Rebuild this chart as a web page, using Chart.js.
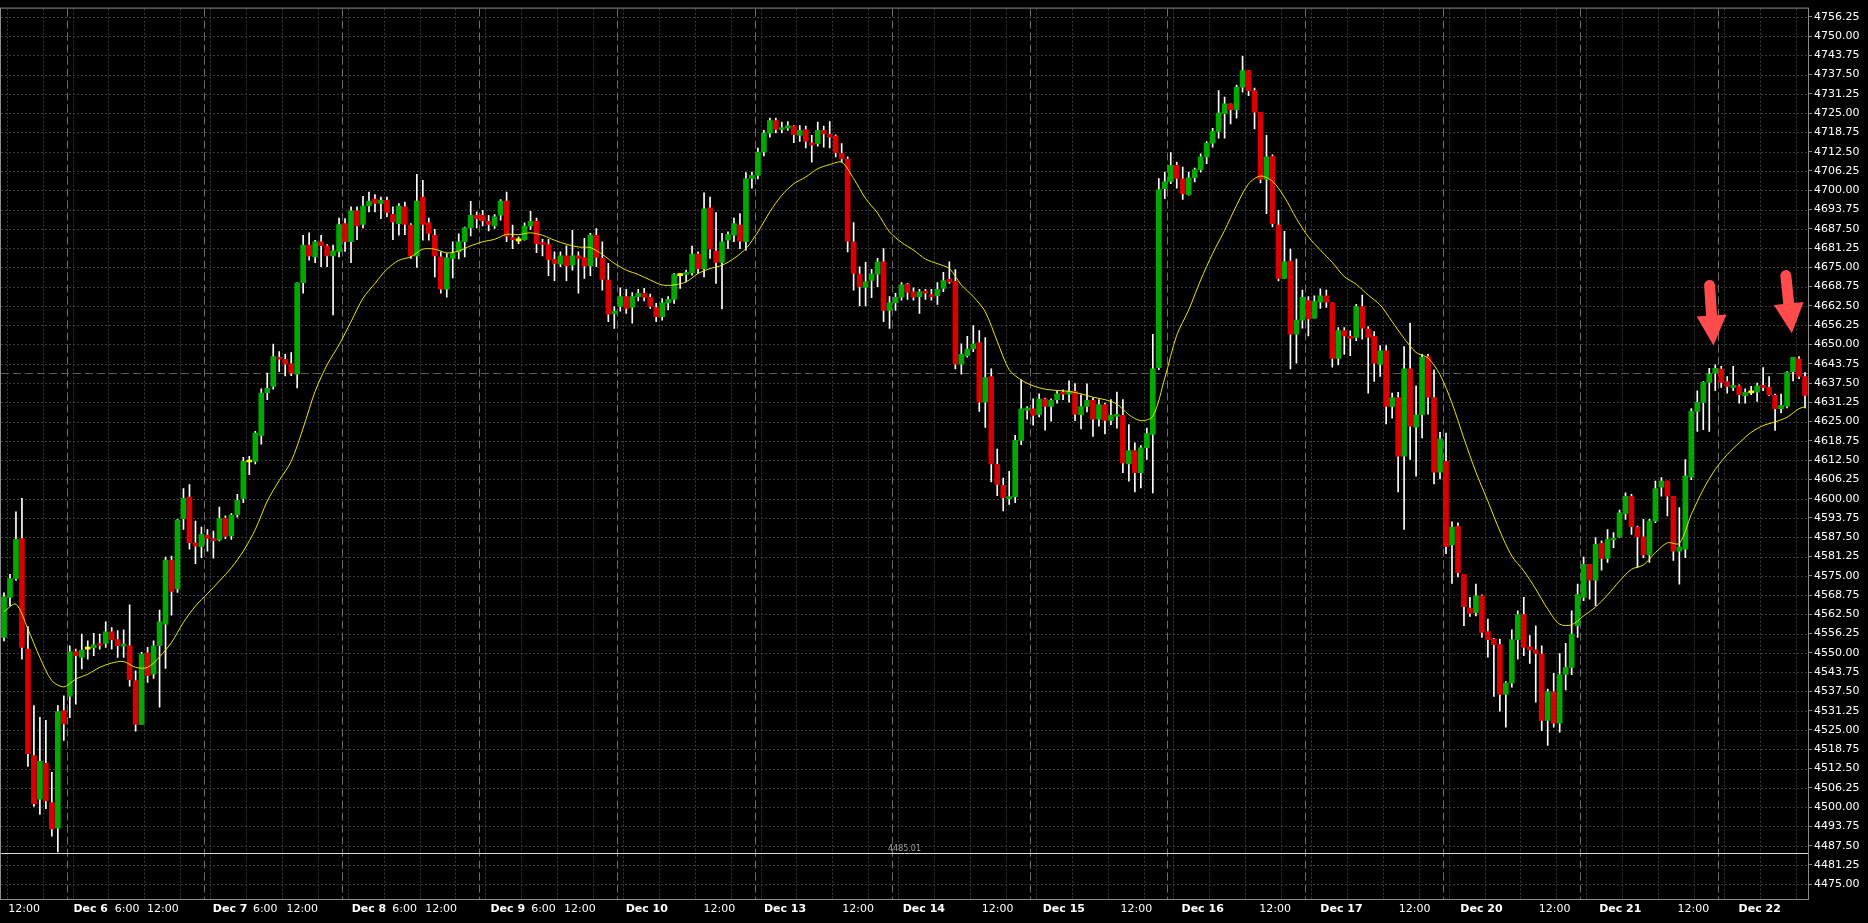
<!DOCTYPE html>
<html>
<head>
<meta charset="utf-8">
<title>ES hourly</title>
<script src="https://cdn.jsdelivr.net/npm/chart.js@4.4.1/dist/chart.umd.min.js"></script>
<style>
  html, body { margin: 0; padding: 0; background: #000; overflow: hidden; }
  #wrap { width: 1868px; height: 923px; }
</style>
</head>
<body>
<div id="wrap"><canvas id="chart"></canvas></div>
<script>
/* hourly candles, bar index 0..301 */

const opens = [
  4555.0, 4568.0, 4574.1, 4587.1, 4551.2, 4516.7, 4502.6, 4514.2, 4501.5, 4493.2,
  4531.3, 4536.0, 4550.4, 4548.5, 4551.2, 4551.6, 4552.9, 4553.1, 4556.8, 4554.3,
  4552.2, 4552.3, 4541.0, 4526.8, 4550.0, 4543.1, 4552.3, 4559.3, 4580.1, 4570.7,
  4593.5, 4600.5, 4585.7, 4584.4, 4588.2, 4587.1, 4586.6, 4593.7, 4587.9, 4594.8,
  4600.1, 4611.9, 4612.1, 4620.5, 4634.4, 4636.4, 4645.8, 4645.2, 4643.8, 4640.4,
  4670.0, 4682.2, 4678.4, 4683.3, 4682.0, 4678.7, 4680.0, 4689.2, 4683.3, 4693.3,
  4688.9, 4694.9, 4697.1, 4695.7, 4696.7, 4692.2, 4689.2, 4694.6, 4688.7, 4678.6,
  4697.8, 4689.4, 4685.4, 4678.4, 4667.9, 4677.9, 4680.0, 4683.3, 4687.8, 4691.9,
  4691.9, 4689.9, 4688.4, 4691.9, 4696.5, 4684.6, 4683.6, 4684.0, 4688.4, 4689.9,
  4683.0, 4682.4, 4677.6, 4676.0, 4678.7, 4675.7, 4678.7, 4678.2, 4675.5, 4685.4,
  4677.9, 4670.9, 4660.0, 4662.3, 4665.5, 4662.0, 4665.5, 4666.6, 4665.3, 4662.0,
  4659.0, 4663.5, 4664.6, 4672.3, 4672.7, 4673.2, 4679.3, 4674.6, 4694.3, 4680.3,
  4676.6, 4683.8, 4685.4, 4688.7, 4683.3, 4703.8, 4704.8, 4712.4, 4718.5, 4722.6,
  4719.7, 4720.1, 4720.8, 4717.8, 4719.7, 4715.3, 4715.1, 4719.4, 4718.1, 4717.6,
  4712.0, 4710.0, 4683.3, 4672.8, 4668.5, 4670.8, 4672.8, 4676.8, 4661.0, 4663.5,
  4665.3, 4669.6, 4667.1, 4665.5, 4667.3, 4666.0, 4665.8, 4668.2, 4671.1, 4670.5,
  4643.6, 4646.4, 4648.6, 4650.6, 4631.3, 4639.6, 4611.1, 4604.3, 4600.0, 4600.6,
  4618.9, 4628.6, 4629.1, 4627.3, 4632.3, 4629.9, 4632.1, 4634.6, 4633.9, 4634.8,
  4627.2, 4629.9, 4631.9, 4625.8, 4630.5, 4625.4, 4626.7, 4627.0, 4611.3, 4615.6,
  4608.4, 4616.5, 4620.8, 4642.5, 4700.5, 4702.9, 4708.1, 4703.7, 4698.6, 4704.1,
  4706.7, 4710.8, 4715.3, 4719.1, 4724.8, 4728.0, 4726.1, 4733.4, 4738.8, 4732.3,
  4725.3, 4703.5, 4711.0, 4688.7, 4671.4, 4677.0, 4653.3, 4657.9, 4664.2, 4658.5,
  4663.7, 4665.8, 4663.5, 4645.5, 4654.5, 4652.6, 4652.3, 4662.3, 4655.0, 4652.6,
  4643.6, 4647.9, 4629.9, 4632.8, 4613.8, 4642.1, 4623.2, 4627.2, 4646.1, 4632.8,
  4608.6, 4612.1, 4585.0, 4591.1, 4575.5, 4564.5, 4563.1, 4568.5, 4556.9, 4554.5,
  4552.7, 4536.5, 4540.3, 4554.3, 4562.4, 4552.0, 4551.0, 4549.6, 4528.1, 4537.4,
  4527.2, 4543.0, 4545.3, 4558.8, 4568.0, 4578.7, 4573.6, 4585.5, 4580.6, 4586.6,
  4587.6, 4595.1, 4600.8, 4590.8, 4587.6, 4581.8, 4592.7, 4603.7, 4605.7, 4600.8,
  4583.0, 4583.6, 4607.0, 4628.3, 4631.2, 4637.7, 4640.7, 4642.0, 4638.0, 4636.1,
  4636.6, 4633.4, 4634.3, 4634.5, 4636.6, 4636.1, 4633.5, 4629.2, 4630.0, 4641.2,
  4645.3, 4639.6
];

const highs = [
  4569.5, 4575.5, 4595.7, 4600.1, 4558.5, 4532.9, 4529.1, 4528.1, 4511.3, 4532.9,
  4536.1, 4552.3, 4551.2, 4556.1, 4553.9, 4556.3, 4556.1, 4560.1, 4558.2, 4557.2,
  4557.5, 4565.6, 4544.2, 4550.2, 4551.8, 4553.9, 4563.9, 4581.1, 4581.4, 4593.3,
  4603.3, 4604.6, 4592.7, 4590.8, 4590.0, 4589.5, 4597.3, 4594.4, 4595.2, 4601.4,
  4613.4, 4613.7, 4621.8, 4635.6, 4640.7, 4650.1, 4647.7, 4646.8, 4647.4, 4670.0,
  4685.4, 4686.2, 4683.8, 4685.4, 4682.4, 4682.2, 4691.0, 4690.8, 4694.6, 4694.6,
  4698.0, 4699.4, 4698.6, 4697.8, 4697.8, 4694.6, 4695.7, 4696.2, 4689.2, 4705.2,
  4703.2, 4691.0, 4687.3, 4680.0, 4679.5, 4683.3, 4685.9, 4688.1, 4696.4, 4693.0,
  4693.5, 4691.9, 4692.1, 4697.0, 4699.4, 4688.7, 4684.9, 4689.4, 4693.2, 4691.0,
  4684.1, 4684.1, 4680.0, 4680.0, 4682.0, 4687.0, 4680.0, 4684.4, 4686.0, 4687.6,
  4683.3, 4676.3, 4662.3, 4668.4, 4667.9, 4666.8, 4667.9, 4668.2, 4666.3, 4663.3,
  4664.9, 4665.5, 4673.0, 4673.0, 4674.1, 4681.9, 4680.0, 4699.2, 4697.8, 4692.8,
  4686.0, 4686.5, 4691.0, 4692.4, 4705.7, 4705.9, 4713.7, 4719.4, 4723.4, 4723.4,
  4722.1, 4722.3, 4721.0, 4721.0, 4720.8, 4717.8, 4722.1, 4720.8, 4722.3, 4718.0,
  4715.1, 4710.8, 4689.5, 4675.2, 4676.6, 4674.4, 4677.9, 4681.1, 4665.5, 4666.6,
  4670.1, 4669.8, 4668.4, 4667.9, 4667.9, 4667.9, 4670.1, 4673.4, 4676.8, 4674.3,
  4650.2, 4652.6, 4656.1, 4654.5, 4652.2, 4642.1, 4616.1, 4606.7, 4608.9, 4620.5,
  4638.5, 4629.9, 4632.4, 4634.0, 4632.6, 4632.4, 4635.0, 4635.3, 4638.2, 4637.3,
  4633.7, 4637.2, 4632.6, 4632.1, 4631.0, 4632.1, 4634.6, 4632.1, 4624.0, 4618.1,
  4617.2, 4622.9, 4653.3, 4703.8, 4705.9, 4712.2, 4709.1, 4707.5, 4705.9, 4707.2,
  4711.8, 4715.8, 4720.1, 4732.3, 4730.2, 4728.0, 4734.1, 4743.4, 4738.8, 4733.1,
  4725.3, 4717.8, 4711.5, 4693.5, 4686.7, 4680.9, 4677.7, 4667.6, 4665.5, 4665.8,
  4668.0, 4667.6, 4663.5, 4655.5, 4655.5, 4654.4, 4663.0, 4666.0, 4655.8, 4654.2,
  4649.6, 4649.6, 4634.2, 4634.5, 4649.3, 4656.9, 4636.6, 4646.8, 4646.8, 4641.8,
  4621.5, 4621.3, 4592.5, 4592.2, 4575.5, 4568.0, 4572.3, 4568.8, 4561.0, 4554.7,
  4554.5, 4540.7, 4557.5, 4563.6, 4568.0, 4555.6, 4558.8, 4552.3, 4538.3, 4543.4,
  4549.8, 4553.1, 4563.6, 4572.3, 4581.1, 4578.7, 4587.4, 4586.3, 4590.0, 4589.0,
  4596.3, 4601.9, 4601.4, 4591.1, 4593.3, 4593.3, 4605.7, 4606.8, 4605.7, 4600.8,
  4597.1, 4612.7, 4629.2, 4635.0, 4638.0, 4642.3, 4643.4, 4642.9, 4639.6, 4642.9,
  4636.9, 4635.6, 4636.4, 4637.5, 4642.5, 4639.6, 4633.9, 4633.9, 4641.2, 4645.8,
  4646.1, 4640.9
];

const lows = [
  4553.9, 4565.2, 4573.5, 4548.0, 4513.2, 4500.2, 4497.6, 4499.5, 4490.6, 4485.5,
  4521.6, 4529.0, 4533.4, 4544.8, 4548.0, 4549.1, 4551.2, 4551.8, 4551.2, 4548.5,
  4548.5, 4539.2, 4524.6, 4526.8, 4540.4, 4541.7, 4532.4, 4545.0, 4562.2, 4569.6,
  4590.0, 4583.6, 4578.9, 4580.9, 4583.0, 4580.7, 4586.3, 4587.0, 4586.8, 4594.0,
  4598.7, 4607.8, 4611.3, 4617.7, 4632.1, 4635.5, 4641.2, 4639.8, 4639.9, 4635.9,
  4666.6, 4677.3, 4676.5, 4675.2, 4675.2, 4659.6, 4678.4, 4680.2, 4676.5, 4684.0,
  4687.8, 4693.0, 4693.0, 4690.8, 4691.4, 4684.0, 4685.4, 4685.6, 4677.9, 4675.0,
  4683.8, 4683.8, 4671.9, 4666.6, 4665.3, 4671.6, 4677.7, 4678.4, 4685.2, 4687.8,
  4688.4, 4686.8, 4687.6, 4690.3, 4683.3, 4681.1, 4682.7, 4683.8, 4687.3, 4679.8,
  4678.7, 4672.3, 4670.7, 4675.2, 4670.7, 4674.1, 4666.6, 4671.4, 4672.3, 4675.2,
  4667.6, 4657.4, 4655.2, 4660.8, 4660.1, 4656.9, 4664.1, 4664.1, 4661.7, 4657.4,
  4657.9, 4661.2, 4663.3, 4668.2, 4670.3, 4672.5, 4673.0, 4671.9, 4677.9, 4669.8,
  4661.5, 4681.1, 4683.3, 4681.1, 4680.6, 4700.7, 4703.7, 4711.1, 4717.2, 4718.6,
  4718.6, 4719.4, 4715.4, 4715.8, 4713.7, 4709.1, 4714.3, 4714.0, 4713.7, 4710.8,
  4709.1, 4680.0, 4667.6, 4662.5, 4662.5, 4665.2, 4668.7, 4657.4, 4655.2, 4661.0,
  4664.4, 4664.6, 4664.4, 4660.1, 4664.6, 4664.4, 4663.0, 4667.1, 4669.8, 4642.1,
  4640.4, 4645.9, 4647.7, 4628.3, 4623.1, 4605.4, 4601.0, 4596.0, 4598.1, 4598.7,
  4617.5, 4625.8, 4623.8, 4626.5, 4622.2, 4625.1, 4631.0, 4632.1, 4631.3, 4625.3,
  4622.6, 4628.1, 4620.2, 4623.5, 4621.0, 4624.0, 4622.9, 4608.4, 4605.7, 4602.2,
  4603.5, 4612.7, 4601.9, 4641.8, 4697.3, 4702.1, 4700.7, 4697.0, 4698.4, 4702.7,
  4705.9, 4708.6, 4714.0, 4716.9, 4716.9, 4721.5, 4723.4, 4731.8, 4730.7, 4719.9,
  4702.4, 4692.4, 4688.1, 4670.6, 4671.4, 4642.1, 4643.9, 4655.3, 4652.8, 4658.5,
  4661.7, 4662.0, 4642.6, 4643.4, 4646.8, 4646.4, 4651.2, 4651.7, 4634.2, 4638.0,
  4639.6, 4624.2, 4626.1, 4602.2, 4590.0, 4612.7, 4607.3, 4619.7, 4627.4, 4604.8,
  4606.4, 4582.2, 4572.5, 4574.6, 4558.8, 4561.8, 4562.0, 4555.0, 4548.6, 4535.9,
  4531.1, 4525.9, 4538.9, 4548.0, 4549.1, 4546.6, 4534.0, 4524.8, 4520.0, 4525.9,
  4524.3, 4538.0, 4542.9, 4555.0, 4566.9, 4567.4, 4565.3, 4576.8, 4579.3, 4584.1,
  4587.4, 4593.3, 4588.4, 4577.7, 4580.9, 4579.3, 4592.2, 4600.8, 4594.4, 4580.0,
  4572.3, 4580.9, 4606.2, 4621.8, 4622.4, 4621.8, 4635.0, 4636.1, 4634.2, 4635.0,
  4631.0, 4631.0, 4633.7, 4631.5, 4635.0, 4633.5, 4622.1, 4627.8, 4629.4, 4638.2,
  4638.9, 4629.4
];

const closes = [
  4568.2, 4574.1, 4586.8, 4551.8, 4517.3, 4501.1, 4514.8, 4502.0, 4492.9, 4531.0,
  4527.0, 4550.4, 4549.1, 4550.9, 4551.2, 4552.6, 4552.4, 4556.8, 4554.3, 4552.3,
  4552.7, 4541.3, 4526.8, 4549.6, 4542.6, 4552.3, 4560.1, 4580.1, 4569.9, 4593.1,
  4600.1, 4585.7, 4584.6, 4588.4, 4587.1, 4586.4, 4593.6, 4587.8, 4594.7, 4599.5,
  4612.1, 4611.9, 4621.3, 4634.2, 4635.8, 4646.1, 4645.2, 4643.6, 4640.7, 4670.0,
  4682.2, 4678.7, 4683.3, 4682.0, 4678.7, 4680.4, 4688.9, 4683.3, 4693.3, 4688.4,
  4694.9, 4696.5, 4695.7, 4696.7, 4692.8, 4689.7, 4694.9, 4688.9, 4678.7, 4696.5,
  4688.9, 4686.0, 4678.7, 4667.9, 4678.1, 4679.5, 4683.3, 4687.8, 4691.9, 4690.8,
  4690.1, 4688.9, 4691.4, 4696.5, 4685.1, 4684.0, 4683.6, 4688.4, 4689.9, 4682.7,
  4682.4, 4677.6, 4676.3, 4678.7, 4675.5, 4678.7, 4677.9, 4675.5, 4685.4, 4678.2,
  4671.1, 4659.8, 4660.8, 4665.5, 4661.7, 4665.5, 4666.6, 4665.3, 4662.3, 4659.0,
  4663.5, 4664.6, 4672.7, 4672.3, 4673.2, 4679.3, 4674.6, 4694.0, 4680.9, 4676.6,
  4683.3, 4685.6, 4689.2, 4683.5, 4703.8, 4704.8, 4712.4, 4718.5, 4722.6, 4719.7,
  4720.1, 4721.0, 4718.0, 4719.4, 4715.8, 4714.7, 4719.4, 4718.3, 4717.2, 4712.2,
  4710.2, 4683.5, 4673.0, 4668.7, 4670.3, 4672.8, 4676.8, 4661.0, 4663.5, 4665.3,
  4669.3, 4666.9, 4665.3, 4667.1, 4666.6, 4665.5, 4667.9, 4670.7, 4670.3, 4643.6,
  4646.8, 4648.5, 4650.2, 4631.3, 4639.3, 4611.3, 4604.6, 4600.3, 4600.6, 4618.9,
  4629.1, 4629.4, 4627.0, 4632.3, 4629.9, 4631.9, 4634.0, 4633.9, 4634.8, 4627.4,
  4629.9, 4631.9, 4625.8, 4630.5, 4625.4, 4627.0, 4627.2, 4611.6, 4615.6, 4608.4,
  4616.5, 4621.1, 4642.1, 4700.2, 4702.7, 4708.1, 4703.8, 4698.9, 4704.0, 4706.7,
  4710.8, 4715.3, 4719.1, 4725.0, 4728.0, 4726.1, 4733.4, 4738.8, 4732.3, 4725.3,
  4703.5, 4710.8, 4689.2, 4671.4, 4676.8, 4653.3, 4657.9, 4665.3, 4658.3, 4663.9,
  4665.8, 4663.7, 4645.5, 4654.5, 4652.8, 4652.0, 4662.3, 4655.3, 4652.3, 4643.9,
  4647.9, 4629.9, 4632.8, 4613.8, 4642.1, 4623.5, 4627.2, 4645.8, 4632.9, 4608.6,
  4619.4, 4584.4, 4590.8, 4576.0, 4565.0, 4562.8, 4568.5, 4556.6, 4554.3, 4552.7,
  4536.5, 4540.3, 4554.3, 4562.4, 4551.8, 4551.0, 4549.8, 4528.1, 4537.4, 4527.2,
  4543.0, 4545.3, 4556.1, 4569.0, 4578.7, 4573.6, 4585.2, 4580.6, 4586.8, 4587.1,
  4595.4, 4600.8, 4590.9, 4587.6, 4581.8, 4592.7, 4603.3, 4605.7, 4600.8, 4583.0,
  4584.3, 4607.3, 4628.3, 4631.2, 4637.7, 4640.4, 4642.3, 4637.7, 4636.4, 4636.6,
  4633.7, 4634.5, 4634.3, 4636.6, 4636.1, 4633.7, 4629.2, 4630.3, 4640.9, 4645.8,
  4639.6, 4633.5
];

// yellow moving average, read every second bar
const maBars = [
  0, 2, 4, 6, 8, 10, 12, 14, 16, 18, 20, 22, 24, 26, 28, 30, 32, 34, 36, 38,
  40, 42, 44, 46, 48, 50, 52, 54, 56, 58, 60, 62, 64, 66, 68, 70, 72, 74, 76, 78,
  80, 82, 84, 86, 88, 90, 92, 94, 96, 98, 100, 102, 104, 106, 108, 110, 112, 114, 116, 118,
  120, 122, 124, 126, 128, 130, 132, 134, 136, 138, 140, 142, 144, 146, 148, 150, 152, 154, 156, 158,
  160, 162, 164, 166, 168, 170, 172, 174, 176, 178, 180, 182, 184, 186, 188, 190, 192, 194, 196, 198,
  200, 202, 204, 206, 208, 210, 212, 214, 216, 218, 220, 222, 224, 226, 228, 230, 232, 234, 236, 238,
  240, 242, 244, 246, 248, 250, 252, 254, 256, 258, 260, 262, 264, 266, 268, 270, 272, 274, 276, 278,
  280, 282, 284, 286, 288, 290, 292, 294, 296, 298, 300, 301
];
const maValues = [
  4563.4, 4565.8, 4557.7, 4548.5, 4541.0, 4539.0, 4541.5, 4543.1, 4545.3, 4546.7,
  4547.2, 4545.3, 4545.3, 4548.7, 4553.4, 4559.9, 4565.2, 4569.2, 4573.3, 4577.6,
  4583.0, 4590.0, 4599.2, 4605.9, 4612.1, 4622.9, 4634.8, 4643.4, 4649.9, 4657.4,
  4665.0, 4669.8, 4674.4, 4677.3, 4678.4, 4680.9, 4680.9, 4679.7, 4680.3, 4682.0,
  4683.3, 4684.1, 4685.7, 4685.6, 4686.2, 4685.4, 4683.8, 4682.5, 4681.6, 4681.4,
  4679.2, 4676.3, 4674.1, 4672.7, 4670.9, 4669.3, 4669.3, 4670.3, 4673.0, 4674.6,
  4675.7, 4677.9, 4681.1, 4686.5, 4693.0, 4698.4, 4702.1, 4704.3, 4707.0, 4708.3,
  4709.1, 4703.8, 4697.3, 4692.6, 4686.5, 4683.1, 4680.6, 4677.7, 4676.2, 4674.6,
  4669.3, 4665.5, 4660.6, 4651.0, 4641.8, 4638.5, 4636.6, 4635.5, 4635.1, 4634.8,
  4634.0, 4632.9, 4632.1, 4630.7, 4627.2, 4625.3, 4626.7, 4639.1, 4653.0, 4661.2,
  4670.9, 4679.5, 4687.0, 4695.1, 4702.1, 4704.6, 4702.9, 4697.8, 4690.8, 4684.9,
  4680.6, 4676.6, 4672.0, 4669.5, 4666.0, 4662.8, 4657.4, 4652.0, 4647.4, 4645.6,
  4640.2, 4631.0, 4619.5, 4608.6, 4599.2, 4589.5, 4581.4, 4576.6, 4570.7, 4564.2,
  4559.3, 4559.1, 4562.0, 4564.9, 4568.8, 4573.3, 4577.1, 4578.5, 4582.5, 4585.7,
  4585.5, 4594.9, 4603.0, 4609.5, 4614.3, 4618.1, 4621.5, 4623.7, 4624.9, 4626.4,
  4629.2, 4629.8
];

// first bar of each session (period separators)
const dayStarts = [11, 34, 57, 80, 103, 126, 149, 172, 195, 218, 241, 264, 287];

// time axis labels: position in bars, text
const tickPos = [0.7, 11.6, 18.5, 23.9, 34.9, 41.6, 47.2, 58.1, 64.9, 70.4, 81.3, 88.1, 93.6,
  103.9, 116.9, 127.0, 140.1, 150.2, 163.4, 173.6, 186.6, 196.8, 209.8, 220.0, 233.1,
  243.4, 256.5, 266.6, 279.7, 289.9];
const tickText = ['12:00', 'Dec 6', '6:00', '12:00', 'Dec 7', '6:00', '12:00', 'Dec 8', '6:00', '12:00',
  'Dec 9', '6:00', '12:00', 'Dec 10', '12:00', 'Dec 13', '12:00', 'Dec 14', '12:00', 'Dec 15',
  '12:00', 'Dec 16', '12:00', 'Dec 17', '12:00', 'Dec 20', '12:00', 'Dec 21', '12:00', 'Dec 22'];

// price axis
const yFirstTick = 4475.00;
const yTickStep = 6.25;
const yTickCount = 46;

const lastPrice = 4640.9;
const rangeLow = 4485.01;

// the two red arrows (tail -> tip, in bars / price)
const arrowTailBar = [285.0, 297.7];
const arrowTailPrice = [4670.9, 4674.1];
const arrowTipBar = [285.7, 298.8];
const arrowTipPrice = [4649.7, 4653.6];

const UP = '#00a800';
const DOWN = '#d80000';
const DOJI = '#ffff00';
const FONT = "'DejaVu Sans', sans-serif";

const bars = opens.map((_, i) => i);

const decor = {
    id: 'decor',
    beforeDraw(chart) {
        const { ctx, width, height } = chart;
        ctx.save();
        ctx.fillStyle = '#000';
        ctx.fillRect(0, 0, width, height);
        ctx.restore();
    },
    beforeDatasetsDraw(chart) {
        const { ctx, chartArea: a, scales: { x, y } } = chart;
        const hline = (v) => {
            const py = Math.round(y.getPixelForValue(v)) + 0.5;
            ctx.beginPath(); ctx.moveTo(a.left, py); ctx.lineTo(a.right, py); ctx.stroke();
        };
        const vline = (v) => {
            const px = Math.round(x.getPixelForValue(v)) + 0.5;
            ctx.beginPath(); ctx.moveTo(px, a.top); ctx.lineTo(px, a.bottom); ctx.stroke();
        };
        ctx.save();
        ctx.beginPath();
        ctx.rect(a.left, a.top, a.right - a.left, a.bottom - a.top);
        ctx.clip();
        ctx.lineWidth = 1;

        // dotted grid
        ctx.strokeStyle = '#3a3a3a';
        ctx.setLineDash([2, 2]);
        y.ticks.forEach(t => hline(t.value));
        [-12, ...dayStarts].forEach(d => {
            for (let k = 0; k < 4; k++) {
                const v = d + 0.45 + 6 * k;
                if (v > x.min && v < x.max) vline(v);
            }
        });

        // session separators
        ctx.strokeStyle = '#6c6c6c';
        ctx.setLineDash([8, 4]);
        dayStarts.forEach(d => vline(d - 0.55));

        // last price line
        ctx.strokeStyle = '#5c5c5c';
        hline(lastPrice);

        // range low line + its caption
        ctx.setLineDash([]);
        ctx.strokeStyle = '#d8d8d8';
        hline(rangeLow);
        ctx.fillStyle = '#a0a0a0';
        ctx.font = "8px " + FONT;
        ctx.textAlign = 'center';
        ctx.textBaseline = 'alphabetic';
        ctx.fillText(rangeLow.toFixed(2), (a.left + a.right) / 2, Math.round(y.getPixelForValue(rangeLow)) - 2);
        ctx.restore();
    },
    afterDatasetsDraw(chart) {
        const { ctx, chartArea: a, scales: { x, y } } = chart;
        ctx.save();
        // frame
        ctx.strokeStyle = '#8c8c8c';
        ctx.lineWidth = 1;
        ctx.strokeRect(a.left - 0.5, a.top - 0.5, a.right - a.left + 1, a.bottom - a.top + 1);

        // arrows
        ctx.fillStyle = '#ff4b4b';
        ctx.strokeStyle = '#ff4b4b';
        arrowTipBar.forEach((_, k) => {
            const x0 = x.getPixelForValue(arrowTailBar[k]), y0 = y.getPixelForValue(arrowTailPrice[k]);
            const x1 = x.getPixelForValue(arrowTipBar[k]), y1 = y.getPixelForValue(arrowTipPrice[k]);
            const len = Math.hypot(x1 - x0, y1 - y0);
            const ux = (x1 - x0) / len, uy = (y1 - y0) / len;
            const head = 30, half = 15, shaft = 11;
            const bx = x1 - ux * head, by = y1 - uy * head;
            ctx.lineWidth = shaft;
            ctx.lineCap = 'round';
            ctx.beginPath();
            ctx.moveTo(x0 + ux * shaft / 2, y0 + uy * shaft / 2);
            ctx.lineTo(bx + ux * 2, by + uy * 2);
            ctx.stroke();
            ctx.beginPath();
            ctx.moveTo(x1, y1);
            ctx.lineTo(bx - uy * half, by + ux * half);
            ctx.lineTo(bx + uy * half, by - ux * half);
            ctx.closePath();
            ctx.fill();
        });
        ctx.restore();
    }
};

new Chart(document.getElementById('chart'), {
    type: 'bar',
    data: {
        datasets: [
            {
                type: 'line',
                label: 'MA',
                data: maBars.map((b, k) => ({ x: b, y: maValues[k] })),
                borderColor: '#e6e600',
                borderWidth: 1,
                pointRadius: 0,
                tension: 0.3,
                order: 0,
            },
            {
                label: 'body',
                data: bars.map(i => ({ x: i, y: [opens[i], closes[i]] })),
                backgroundColor: (c) => {
                    const i = c.dataIndex;
                    if (closes[i] > opens[i]) return UP;
                    if (closes[i] < opens[i]) return DOWN;
                    return DOJI;
                },
                borderWidth: 0,
                barThickness: 5,
                minBarLength: 2,
                grouped: false,
                order: 1,
            },
            {
                label: 'wick',
                data: bars.map(i => ({ x: i, y: [lows[i], highs[i]] })),
                backgroundColor: '#ffffff',
                borderWidth: 0,
                barThickness: 1,
                grouped: false,
                order: 2,
            },
        ],
    },
    options: {
        responsive: true,
        maintainAspectRatio: false,
        animation: false,
        events: [],
        layout: { padding: { top: 6, left: 1, right: 0, bottom: 0 } },
        plugins: { legend: { display: false }, tooltip: { enabled: false } },
        scales: {
            x: {
                type: 'linear',
                min: -0.5,
                max: 301.5,
                bounds: 'data',
                offset: false,
                afterBuildTicks: (s) => { s.ticks = tickPos.map(v => ({ value: v })); },
                afterFit: (s) => { s.height = 24; },
                grid: { display: false, drawTicks: false, offset: false },
                border: { display: true, color: '#8c8c8c', width: 1 },
                ticks: {
                    autoSkip: false,
                    maxRotation: 0,
                    minRotation: 0,
                    align: 'start',
                    padding: 4,
                    color: '#ffffff',
                    callback: (v, i) => tickText[i],
                    font: (c) => ({
                        family: FONT,
                        size: 11,
                        weight: tickText[c.index] && tickText[c.index].startsWith('Dec') ? 'bold' : 'normal',
                    }),
                },
            },
            y: {
                position: 'right',
                min: 4470.2,
                max: 4758.9,
                bounds: 'data',
                beginAtZero: false,
                afterBuildTicks: (s) => {
                    s.ticks = Array.from({ length: yTickCount }, (_, k) => ({ value: yFirstTick + k * yTickStep }));
                },
                afterFit: (s) => { s.width = 60; },
                grid: { drawOnChartArea: false, drawTicks: true, tickLength: 4, tickColor: '#8c8c8c' },
                border: { display: true, color: '#8c8c8c', width: 1 },
                ticks: {
                    autoSkip: false,
                    padding: 2,
                    color: '#ffffff',
                    font: { family: FONT, size: 11 },
                    callback: (v) => Number(v).toFixed(2),
                },
            },
        },
    },
    plugins: [decor],
});
</script>
</body>
</html>
